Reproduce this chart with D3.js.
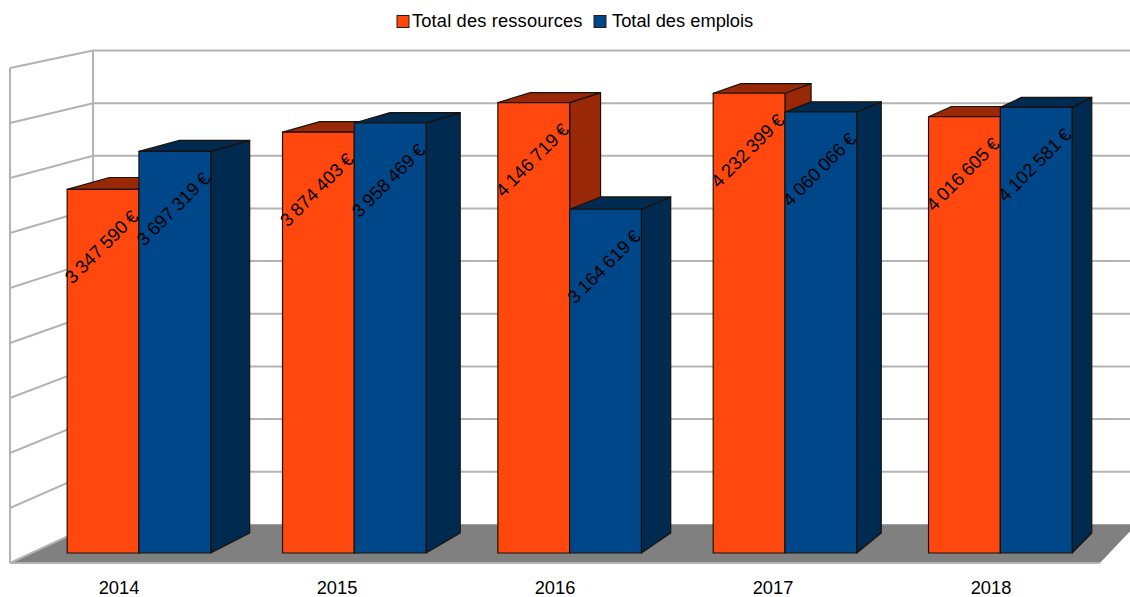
<!DOCTYPE html>
<html><head><meta charset="utf-8">
<script src="https://cdn.jsdelivr.net/npm/d3@7/dist/d3.min.js"></script>
<style>html,body{margin:0;padding:0;background:#fff}svg{display:block}text{font-family:"Liberation Sans",Arial,sans-serif;fill:#000}</style>
</head><body><div id="c"></div>
<script>
const years = ["2014","2015","2016","2017","2018"];
const ressources = [3347590,3874403,4146719,4232399,4016605];
const emplois = [3697319,3958469,3164619,4060066,4102581];
const gridTicks = [0,500000,1000000,1500000,2000000,2500000,3000000,3500000,4000000,4500000];
const seriesNames = ["Total des ressources","Total des emplois"];
const seriesFront = ["#ff470e","#00478a"];
const seriesDark = ["#992809","#002a50"];

const W=1130,H=597;
const svg=d3.select("#c").append("svg").attr("width",W).attr("height",H);

// perspective: every depth edge runs toward one vanishing point
const vp=[1951,-340], wallDepth=0.0428, barDepth=0.0224;
const recede=(p,t)=>[p[0]+(vp[0]-p[0])*t,p[1]+(vp[1]-p[1])*t];

const yMax=gridTicks[gridTicks.length-1];
const yWall=d3.scaleLinear().domain([0,yMax]).range([563,68]);
const yBar=d3.scaleLinear().domain([0,yMax]).range([553,64.2]);
const xLabel=d3.scaleBand().domain(years).range([10,1100]);
const xBar=d3.scaleBand().domain(years).range([31.25,1108]).paddingInner(0.3335).paddingOuter(0.1668);
const xSeries=d3.scaleBand().domain([0,1]).range([0,xBar.bandwidth()]);
const color=d3.scaleOrdinal().domain(seriesNames).range(seriesFront);

const line=d3.line();
const poly=pts=>line(pts)+"Z";
const GRID="#b3b3b3";

// floor
const fl=[10,yWall(0)], fr=[1100,yWall(0)];
svg.append("path").attr("d",poly([fl,recede(fl,wallDepth),recede(fr,wallDepth),fr])).attr("fill","#808080");

// walls and gridlines
const wallLines=svg.append("g").attr("fill","none").attr("stroke",GRID).attr("stroke-width",2);
gridTicks.forEach(v=>{
  const a=[10,yWall(v)], b=recede(a,wallDepth);
  wallLines.append("path").attr("d",line([a,b]));
  if(v>0) wallLines.append("path").attr("d",line([b,[W,b[1]]]));
});
const top0=[10,yWall(yMax)];
wallLines.append("path").attr("d",line([top0,fl]));
wallLines.append("path").attr("d",line([recede(top0,wallDepth),recede(fl,wallDepth)]));
wallLines.append("path").attr("d",line([fl,fr]));

// bars
const fmt=d3.formatLocale({decimal:",",thousands:" ",grouping:[3],currency:[""," €"]}).format("$,.0f");
const rows=years.map((y,i)=>({year:y,values:[ressources[i],emplois[i]]}));
const groups=svg.append("g").selectAll("g").data(rows).join("g");
groups.each(function(d){
  const g=d3.select(this);
  d.values.forEach((v,s)=>{
    const x0=xBar(d.year)+xSeries(s), x1=x0+xSeries.bandwidth();
    const yt=yBar(v), yb=yBar(0);
    const tl=[x0,yt],tr=[x1,yt],br=[x1,yb],bl=[x0,yb];
    const attrs=(p,f)=>p.attr("fill",f).attr("stroke","#1a1208").attr("stroke-width",1.2).attr("stroke-linejoin","round");
    attrs(g.append("path").attr("d",poly([tr,recede(tr,barDepth),recede(br,barDepth),br])),seriesDark[s]);
    attrs(g.append("path").attr("d",poly([tl,recede(tl,barDepth),recede(tr,barDepth),tr])),seriesDark[s]);
    attrs(g.append("path").attr("d",poly([tl,tr,br,bl])),seriesFront[s]);
  });
});
// data labels on top of all bars
const labels=svg.append("g").attr("font-size",18.5).attr("text-anchor","middle").attr("word-spacing",-1);
rows.forEach(d=>d.values.forEach((v,s)=>{
  const x1=xBar(d.year)+xSeries(s)+xSeries.bandwidth();
  const cx=x1-33, cy=yBar(v)+62;
  labels.append("text").attr("transform",`translate(${cx},${cy}) rotate(-45)`).text(fmt(v));
}));

// category labels
svg.append("g").attr("font-size",18.3).attr("text-anchor","middle").selectAll("text").data(years).join("text")
  .attr("x",d=>xLabel(d)+xLabel.bandwidth()/2).attr("y",594).text(d=>d);

// legend
const legendX=[397,594], legendTextX=[412,612], legendSpacing=[0.15,0];
const lg=svg.append("g").attr("font-size",18.3);
seriesNames.forEach((n,i)=>{
  lg.append("rect").attr("x",legendX[i]).attr("y",15.5).attr("width",12).attr("height",12).attr("fill",color(n)).attr("stroke","#2a1a10");
  lg.append("text").attr("x",legendTextX[i]).attr("y",27).attr("letter-spacing",legendSpacing[i]).text(n);
});
</script></body></html>
